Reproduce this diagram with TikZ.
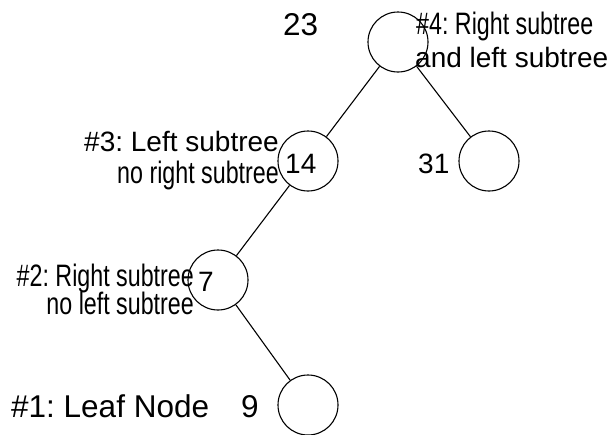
\documentclass[tikz,border=0pt]{standalone}
\usepackage{fontspec}
\setmainfont{Liberation Sans}
\newfontfamily\narrowfont[FakeStretch=0.75]{Liberation Sans}
\frenchspacing
\begin{document}
\begin{tikzpicture}[x=1pt,y=-1pt,
  circ/.style={draw,circle,minimum size=60pt,inner sep=0pt,line width=1.1pt},
  edge/.style={line width=1.1pt},
  lbl/.style={inner sep=0pt,font=\fontsize{28}{28}\selectfont},
  biglbl/.style={inner sep=0pt,font=\fontsize{31.5}{31.5}\selectfont},
  nlbl/.style={inner sep=0pt,font=\narrowfont\fontsize{31}{31}\selectfont}]
\useasboundingbox (0,0) rectangle (612,434);
\node[circ] (n23) at (398,42) {};
\node[circ] (n14) at (308,161) {};
\node[circ] (n31) at (489,161) {};
\node[circ] (n7) at (218,280) {};
\node[circ] (n9) at (308,405) {};
\draw[edge] (n23) -- (n14);
\draw[edge] (n23) -- (n31);
\draw[edge] (n14) -- (n7);
\draw[edge] (n7) -- (n9);
% values
\node[biglbl,anchor=base west] (v23) at (283,35) {23};
\node[lbl,anchor=base west] (v14) at (285,173) {14};
\node[lbl,anchor=base west] (v31) at (418,173) {31};
\node[lbl,anchor=base west] (v7) at (198,291) {7};
\node[biglbl,anchor=base west] (v9) at (241,417) {9};
% annotations
\node[nlbl,anchor=base west] (a4a) at (416,34) {\#4: Right subtree};
\node[lbl,anchor=base west] (a4b) at (415,67) {and left subtree};
\node[lbl,anchor=base east] (a3a) at (279,151) {\#3: Left subtree};
\node[nlbl,anchor=base east] (a3b) at (279,183) {no right subtree};
\node[nlbl,anchor=base east] (a2a) at (194,286) {\#2: Right subtree};
\node[nlbl,anchor=base east] (a2b) at (194,314) {no left subtree};
\node[biglbl,anchor=base west] (a1) at (11,417) {\#1: Leaf Node};
\end{tikzpicture}
\end{document}
